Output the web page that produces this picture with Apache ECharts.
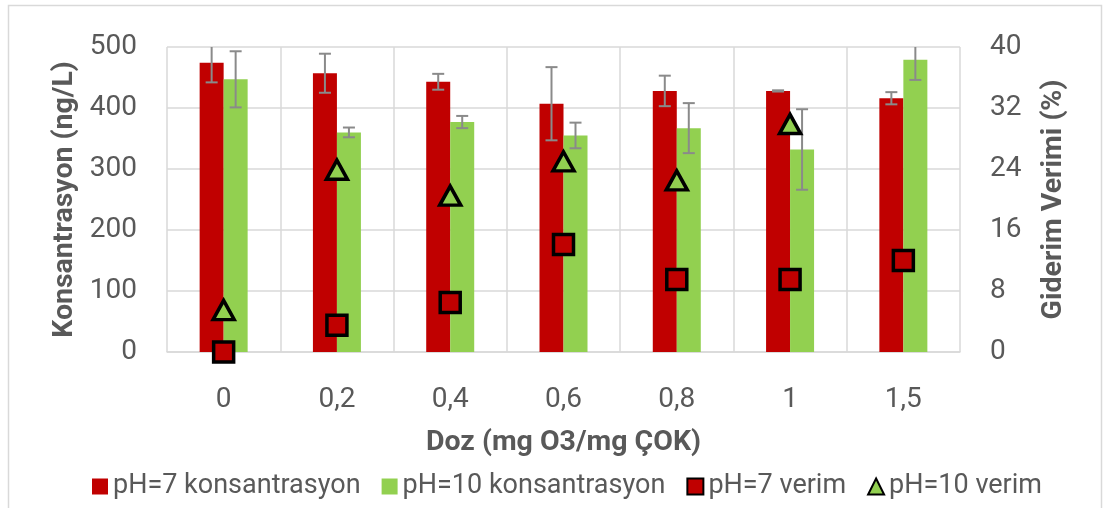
<!DOCTYPE html>
<html>
<head>
<meta charset="utf-8">
<script src="https://cdn.jsdelivr.net/npm/echarts@6/dist/echarts.min.js"></script>
<style>
html,body{margin:0;padding:0;background:#fff;}
#main{width:1105px;height:508px;}
</style>
</head>
<body>
<div id="main"></div>
<script>
const categories = ['0', '0,2', '0,4', '0,6', '0,8', '1', '1,5'];
const ph7Konsantrasyon = [474, 457, 443, 407, 428, 428, 416];
const ph10Konsantrasyon = [447, 360, 377, 355, 367, 332, 479];
const ph7Hata = [32, 32, 13, 60, 25, 1, 10];
const ph10Hata = [46, 8, 10, 21, 41, 66, 33];
const ph7Verim = [0, 3.5, 6.5, 14.1, 9.5, 9.5, 12.0];
const ph10Verim = [5.5, 23.9, 20.5, 25.0, 22.5, 29.9, null];
const leftTicks = [0, 500, 100];
const rightTicks = [0, 40, 8];

const FONT = 'Roboto';
const TXT = '#595959';
const GRID = '#D9D9D9';
const RED = '#C00000';
const GREEN = '#92D050';

function errData(vals, errs) {
  return vals.map((v, i) => [i, v - errs[i], v + errs[i]]);
}
function errRender(offset) {
  return function (params, api) {
    const lo = api.coord([api.value(0), api.value(1)]);
    const hi = api.coord([api.value(0), api.value(2)]);
    const x = lo[0] + offset;
    const cap = 6;
    const style = { stroke: '#8A8A8A', lineWidth: 2, fill: 'none' };
    return {
      type: 'group',
      children: [
        { type: 'line', shape: { x1: x, y1: lo[1], x2: x, y2: hi[1] }, style: style },
        { type: 'line', shape: { x1: x - cap, y1: lo[1], x2: x + cap, y2: lo[1] }, style: style },
        { type: 'line', shape: { x1: x - cap, y1: hi[1], x2: x + cap, y2: hi[1] }, style: style }
      ]
    };
  };
}

const chart = echarts.init(document.getElementById('main'), null, { renderer: 'canvas' });
chart.setOption({
  animation: false,
  backgroundColor: '#fff',
  textStyle: { fontFamily: FONT, color: TXT },
  graphic: [{
    type: 'rect', silent: true, z: -10,
    shape: { x: 8.5, y: 5.5, width: 1093, height: 600 },
    style: { fill: 'none', stroke: GRID, lineWidth: 1.5 }
  }],
  grid: { left: 167, right: 145, top: 47, bottom: 156, containLabel: false },
  legend: {
    bottom: 3, left: 87, itemGap: 21, itemWidth: 16, itemHeight: 16,
    textStyle: { fontFamily: FONT, fontSize: 27, color: TXT },
    data: [
      { name: 'pH=7 konsantrasyon', icon: 'rect' },
      { name: 'pH=10 konsantrasyon', icon: 'rect' },
      { name: 'pH=7 verim' },
      { name: 'pH=10 verim' }
    ]
  },
  xAxis: {
    type: 'category', data: categories, boundaryGap: true,
    axisLine: { show: true, lineStyle: { color: GRID, width: 1.5 } },
    axisTick: { show: false },
    splitLine: { show: true, lineStyle: { color: GRID, width: 1.5 } },
    axisLabel: { fontFamily: FONT, fontSize: 28, color: TXT, margin: 34, interval: 0 },
    name: 'Doz (mg O3/mg ÇOK)', nameLocation: 'middle', nameGap: 76,
    nameTextStyle: { fontFamily: FONT, fontSize: 28.5, fontWeight: 'bold', color: TXT }
  },
  yAxis: [{
    type: 'value', min: leftTicks[0], max: leftTicks[1], interval: leftTicks[2],
    axisLine: { show: false }, axisTick: { show: false },
    splitLine: { show: true, lineStyle: { color: GRID, width: 1.5 } },
    axisLabel: { fontFamily: FONT, fontSize: 28, color: TXT, margin: 30 },
    name: 'Konsantrasyon (ng/L)', nameLocation: 'middle', nameRotate: 90, nameGap: 88,
    nameTextStyle: { fontFamily: FONT, fontSize: 28.5, fontWeight: 'bold', color: TXT }
  }, {
    type: 'value', min: rightTicks[0], max: rightTicks[1], interval: rightTicks[2], position: 'right',
    axisLine: { show: false }, axisTick: { show: false }, splitLine: { show: false },
    axisLabel: { fontFamily: FONT, fontSize: 28, color: TXT, margin: 30 },
    name: 'Giderim Verimi (%)', nameLocation: 'middle', nameRotate: 90, nameGap: 79,
    nameTextStyle: { fontFamily: FONT, fontSize: 28.5, fontWeight: 'bold', color: TXT }
  }],
  series: [
    { name: 'pH=7 konsantrasyon', type: 'bar', data: ph7Konsantrasyon, barWidth: 24, barGap: '0%',
      itemStyle: { color: RED } },
    { name: 'pH=10 konsantrasyon', type: 'bar', data: ph10Konsantrasyon, barWidth: 24, barGap: '0%',
      itemStyle: { color: GREEN } },
    { name: 'pH7err', type: 'custom', data: errData(ph7Konsantrasyon, ph7Hata), clip: true, z: 3,
      encode: { x: 0, y: [1, 2] }, renderItem: errRender(-12) },
    { name: 'pH10err', type: 'custom', data: errData(ph10Konsantrasyon, ph10Hata), clip: true, z: 3,
      encode: { x: 0, y: [1, 2] }, renderItem: errRender(12) },
    { name: 'pH=7 verim', type: 'scatter', yAxisIndex: 1, data: ph7Verim, clip: false, z: 5,
      symbol: 'rect', symbolSize: 20,
      itemStyle: { color: RED, borderColor: '#000', borderWidth: 3.5, opacity: 1 } },
    { name: 'pH=10 verim', type: 'scatter', yAxisIndex: 1, data: ph10Verim, clip: false, z: 5,
      symbol: 'triangle', symbolSize: [21, 19],
      itemStyle: { color: GREEN, borderColor: '#000', borderWidth: 3.5, opacity: 1 } }
  ]
});
</script>
</body>
</html>
